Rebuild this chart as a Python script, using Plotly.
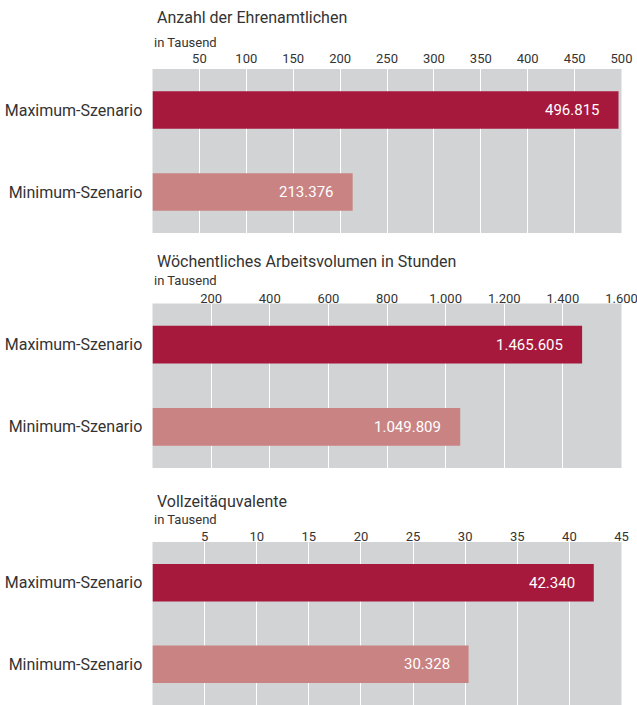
import plotly.graph_objects as go

categories = ["Maximum-Szenario", "Minimum-Szenario"]

titles = ["Anzahl der Ehrenamtlichen",
          "Wöchentliches Arbeitsvolumen in Stunden",
          "Vollzeitäquvalente"]
unit_label = "in Tausend"

values_ehrenamtliche = [496.815, 213.376]
labels_ehrenamtliche = ["496.815", "213.376"]
values_arbeitsvolumen = [1465.605, 1049.809]
labels_arbeitsvolumen = ["1.465.605", "1.049.809"]
values_vollzeit = [42.340, 30.328]
labels_vollzeit = ["42.340", "30.328"]

ticks_ehrenamtliche = [50, 100, 150, 200, 250, 300, 350, 400, 450, 500]
ticktext_ehrenamtliche = ["50", "100", "150", "200", "250", "300", "350", "400", "450", "500"]
ticks_arbeitsvolumen = [200, 400, 600, 800, 1000, 1200, 1400, 1600]
ticktext_arbeitsvolumen = ["200", "400", "600", "800", "1.000", "1.200", "1.400", "1.600"]
ticks_vollzeit = [5, 10, 15, 20, 25, 30, 35, 40, 45]
ticktext_vollzeit = ["5", "10", "15", "20", "25", "30", "35", "40", "45"]

ranges = [[0, 500], [0, 1600], [0, 45]]

panels = [
    (values_ehrenamtliche, labels_ehrenamtliche, ticks_ehrenamtliche, ticktext_ehrenamtliche),
    (values_arbeitsvolumen, labels_arbeitsvolumen, ticks_arbeitsvolumen, ticktext_arbeitsvolumen),
    (values_vollzeit, labels_vollzeit, ticks_vollzeit, ticktext_vollzeit),
]

W, H = 637, 705
FONT = "Roboto"
TEXT = "#333333"
BAR_COLORS = ["#A6193C", "#C98383"]
BG = "#D1D3D4"

# pixel layout (top, bottom) of each panel's plot area
panel_px = [(69, 233), (303.5, 468), (542, 705)]
title_px = [17, 261, 501]
unit_px = [43, 280.5, 519.5]
tick_standoff = [2, -3, -3]
x_dom = [152.5 / W, 621.5 / W]

fig = go.Figure()
layout = dict(
    width=W, height=H,
    margin=dict(l=0, r=0, t=0, b=0, autoexpand=False),
    paper_bgcolor="white",
    plot_bgcolor=BG,
    showlegend=False,
    font=dict(family=FONT, color=TEXT),
    bargap=0.54,
)
annotations = []

for i, (vals, vlabels, tv, tt) in enumerate(panels):
    n = "" if i == 0 else str(i + 1)
    xa, ya = "x" + n, "y" + n
    fig.add_trace(go.Bar(
        x=vals, y=categories, orientation="h",
        marker=dict(color=BAR_COLORS, line=dict(width=0)),
        width=0.46,
        xaxis=xa, yaxis=ya, hoverinfo="skip",
    ))
    top, bot = panel_px[i]
    layout["xaxis" + n] = dict(
        domain=x_dom, anchor=ya, side="top", range=ranges[i],
        tickvals=tv, ticktext=tt, showgrid=True, gridcolor="white", gridwidth=1,
        zeroline=False, showline=False, ticks="",
        ticklabelstandoff=tick_standoff[i],
        tickfont=dict(size=13, color=TEXT, family=FONT),
        fixedrange=True, automargin=False, ticklabeloverflow="allow",
    )
    layout["yaxis" + n] = dict(
        domain=[1 - bot / H, 1 - top / H], anchor=xa,
        categoryorder="array", categoryarray=categories[::-1],
        showgrid=False, zeroline=False, showline=False,
        ticks="outside", ticklen=6, tickcolor="rgba(0,0,0,0)",
        tickfont=dict(size=16, color=TEXT, family=FONT), fixedrange=True,
        automargin=False,
    )
    for v, lab, c in zip(vals, vlabels, categories):
        annotations.append(dict(
            x=v, y=c, xref=xa, yref=ya, text=lab, showarrow=False,
            xanchor="right", yanchor="middle", xshift=-17,
            font=dict(size=15, color="white", family=FONT),
        ))
    annotations.append(dict(
        x=155 / W, y=1 - title_px[i] / H, xref="paper", yref="paper",
        text=titles[i], showarrow=False, xanchor="left", yanchor="middle",
        font=dict(size=16, color=TEXT, family=FONT),
    ))
    annotations.append(dict(
        x=152 / W, y=1 - unit_px[i] / H, xref="paper", yref="paper",
        text=unit_label, showarrow=False, xanchor="left", yanchor="middle",
        font=dict(size=13, color=TEXT, family=FONT),
    ))

layout["annotations"] = annotations
fig.update_layout(**layout)
fig.write_html(
    "out.html",
    config={"displayModeBar": False},
    post_script="document.body.style.margin='0';document.body.style.overflow='hidden';",
)
